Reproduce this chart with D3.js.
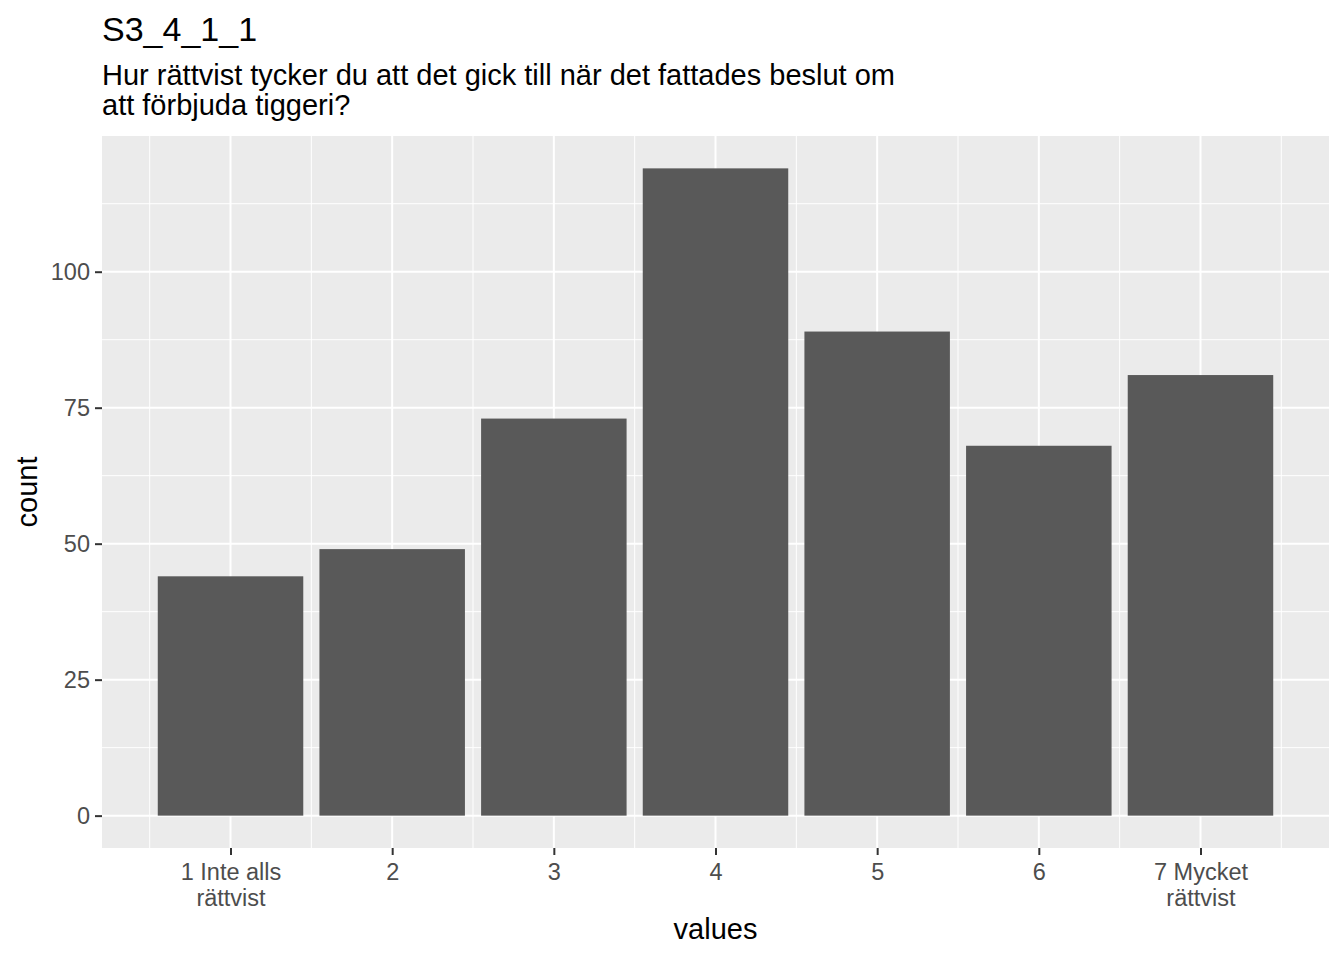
<!DOCTYPE html>
<html>
<head>
<meta charset="utf-8">
<script src="https://cdn.jsdelivr.net/npm/d3@7"></script>
<style>
  body { margin: 0; background: #fff; }
  text { font-family: "Liberation Sans", Arial, sans-serif; }
</style>
</head>
<body>
<svg id="chart" width="1344" height="960"></svg>
<script>
// data
const values = [1, 2, 3, 4, 5, 6, 7];
const counts = [44, 49, 73, 119, 89, 68, 81];
const tickLabels = [["1 Inte alls", "rättvist"], ["2"], ["3"], ["4"], ["5"], ["6"], ["7 Mycket", "rättvist"]];
const yTicks = [0, 25, 50, 75, 100];
const yMinor = [12.5, 37.5, 62.5, 87.5, 112.5];
const xMinor = [0.5, 1.5, 2.5, 3.5, 4.5, 5.5, 6.5, 7.5];
const title = "S3_4_1_1";
const subtitle = ["Hur rättvist tycker du att det gick till när det fattades beslut om", "att förbjuda tiggeri?"];

const svg = d3.select("#chart");
const margin = { top: 136, bottom: 112, left: 102, right: 15 };
const width = +svg.attr("width");
const height = +svg.attr("height");
const innerWidth = width - margin.left - margin.right;
const innerHeight = height - margin.top - margin.bottom;

// continuous x like ggplot, bars 0.9 wide, 5% expansion
const barW = 0.9;
const xLo = values[0] - barW / 2, xHi = values[values.length - 1] + barW / 2;
const xPad = (xHi - xLo) * 0.05;
const xScale = d3.scaleLinear().domain([xLo - xPad, xHi + xPad]).range([0, innerWidth]);

const yMax = d3.max(counts);
const yPad = yMax * 0.05;
const yScale = d3.scaleLinear().domain([-yPad, yMax + yPad]).range([innerHeight, 0]);

const g = svg.append("g").attr("transform", `translate(${margin.left},${margin.top})`);

// panel
g.append("rect").attr("width", innerWidth).attr("height", innerHeight).attr("fill", "#EBEBEB");

// minor grid
g.selectAll(".ymin").data(yMinor).enter().append("line")
  .attr("x1", 0).attr("x2", innerWidth)
  .attr("y1", d => yScale(d)).attr("y2", d => yScale(d))
  .attr("stroke", "#fff").attr("stroke-width", 1);
g.selectAll(".xmin").data(xMinor).enter().append("line")
  .attr("y1", 0).attr("y2", innerHeight)
  .attr("x1", d => xScale(d)).attr("x2", d => xScale(d))
  .attr("stroke", "#fff").attr("stroke-width", 1);

// major grid
g.selectAll(".ymaj").data(yTicks).enter().append("line")
  .attr("x1", 0).attr("x2", innerWidth)
  .attr("y1", d => yScale(d)).attr("y2", d => yScale(d))
  .attr("stroke", "#fff").attr("stroke-width", 2);
g.selectAll(".xmaj").data(values).enter().append("line")
  .attr("y1", 0).attr("y2", innerHeight)
  .attr("x1", d => xScale(d)).attr("x2", d => xScale(d))
  .attr("stroke", "#fff").attr("stroke-width", 2);

// bars
g.selectAll(".bar").data(values).enter().append("rect")
  .attr("x", d => xScale(d - barW / 2))
  .attr("width", d => xScale(d + barW / 2) - xScale(d - barW / 2))
  .attr("y", (d, i) => yScale(counts[i]))
  .attr("height", (d, i) => yScale(0) - yScale(counts[i]))
  .attr("fill", "#595959");

// y axis
const yAxis = d3.axisLeft(yScale).tickValues(yTicks).tickSize(7).tickPadding(5);
const yAxisG = g.append("g").call(yAxis);
yAxisG.select(".domain").remove();
yAxisG.selectAll("line").attr("stroke", "#333333").attr("stroke-width", 2);
yAxisG.selectAll("text").attr("fill", "#4D4D4D").style("font-size", "23.5px").attr("dy", "0.35em");

// x axis
const xAxis = d3.axisBottom(xScale).tickValues(values).tickSize(7).tickFormat("");
const xAxisG = g.append("g").attr("transform", `translate(0,${innerHeight})`).call(xAxis);
xAxisG.select(".domain").remove();
xAxisG.selectAll("line").attr("stroke", "#333333").attr("stroke-width", 2);
xAxisG.selectAll(".tick").append("text")
  .attr("fill", "#4D4D4D")
  .attr("text-anchor", "middle")
  .style("font-size", "23.5px")
  .selectAll("tspan")
  .data((d, i) => tickLabels[i])
  .enter().append("tspan")
  .attr("x", 0)
  .attr("y", (d, i) => 32 + i * 26)
  .text(d => d);

// axis titles
svg.append("text")
  .attr("x", margin.left + innerWidth / 2).attr("y", 939)
  .attr("text-anchor", "middle").style("font-size", "29px").attr("fill", "#000")
  .text("values");
svg.append("text")
  .attr("transform", `translate(37,${margin.top + innerHeight / 2}) rotate(-90)`)
  .attr("text-anchor", "middle").style("font-size", "29px").attr("fill", "#000")
  .text("count");

// titles
svg.append("text").attr("x", 102).attr("y", 41)
  .style("font-size", "34px").attr("fill", "#000").text(title);
svg.append("text").attr("x", 102).attr("y", 85)
  .style("font-size", "29px").attr("fill", "#000")
  .selectAll("tspan").data(subtitle).enter().append("tspan")
  .attr("x", 102).attr("dy", (d, i) => i === 0 ? 0 : 30).text(d => d);
</script>
</body>
</html>
